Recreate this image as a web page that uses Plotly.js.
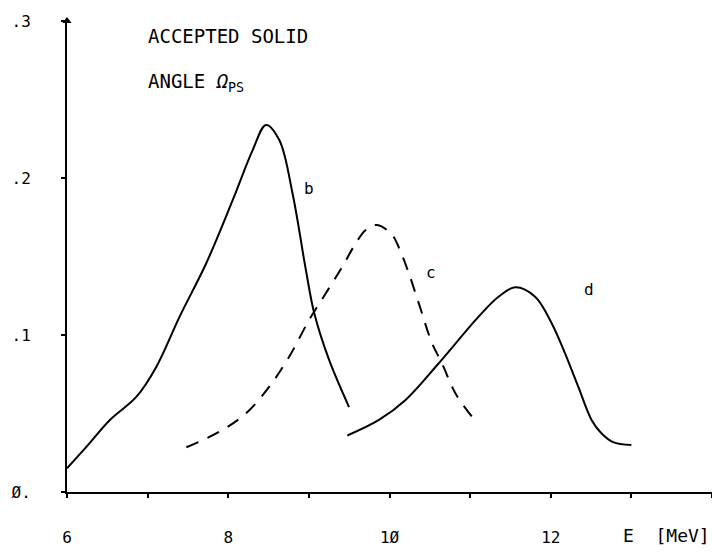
<!DOCTYPE html>
<html>
<head>
<meta charset="utf-8">
<script src="https://cdn.plot.ly/plotly-3.0.1.min.js"></script>
<style>html,body{margin:0;padding:0;background:#fff;}#chart{width:712px;height:560px;}</style>
</head>
<body>
<div id="chart"></div>
<script>
// Curve b (solid)
const bE = [6.0, 6.243, 6.532, 6.862, 7.109, 7.397, 7.727, 8.056, 8.303, 8.469, 8.633, 8.797, 8.963, 9.066, 9.251, 9.498];
const bY = [0.0151, 0.0289, 0.0459, 0.0607, 0.0798, 0.1117, 0.1457, 0.186, 0.2178, 0.2338, 0.2242, 0.1903, 0.1414, 0.114, 0.0841, 0.0541];
// Curve c (dashed)
const cE = [7.48, 7.891, 8.221, 8.509, 8.756, 9.004, 9.21, 9.415, 9.581, 9.705, 9.848, 10.033, 10.137, 10.24, 10.363, 10.528, 10.651, 10.817, 11.022];
const cY = [0.0285, 0.0384, 0.0501, 0.0671, 0.0862, 0.1096, 0.1266, 0.1435, 0.1584, 0.1669, 0.1701, 0.1637, 0.1531, 0.1393, 0.1202, 0.0947, 0.082, 0.0629, 0.048];
// Curve d (solid)
const dE = [9.477, 9.869, 10.199, 10.611, 11.105, 11.352, 11.559, 11.806, 12.011, 12.177, 12.341, 12.506, 12.625, 12.773, 13.0];
const dY = [0.036, 0.0459, 0.0586, 0.082, 0.1117, 0.1244, 0.1304, 0.1244, 0.1075, 0.0883, 0.0671, 0.0459, 0.0376, 0.0318, 0.0299];

const curveLabels = ["b", "c", "d"];
const labelE = [9.0, 10.51, 12.48];
const labelY = [0.1936, 0.140, 0.1287];

const xTickVals = [6, 8, 10, 12];
const xTickText = ["6", "8", "1Ø", "12"];
const xMinorVals = [7, 9, 11, 13, 14];
const yTickVals = [0, 0.1, 0.2, 0.3];
const yTickText = ["Ø.", ".1", ".2", ".3"];

const titleLine1 = "ACCEPTED SOLID";
const titleLine2 = "ANGLE <i>Ω</i><sub>PS</sub>";
const xUnit = "E  [MeV]";

const FONT = "DejaVu Sans Mono, Liberation Mono, monospace";

const traces = [
  {x: bE, y: bY, mode: "lines", line: {color: "#000", width: 2, shape: "spline", smoothing: 1}, hoverinfo: "skip"},
  {x: cE, y: cY, mode: "lines", line: {color: "#000", width: 2, shape: "spline", smoothing: 1, dash: "13px,10px"}, hoverinfo: "skip"},
  {x: dE, y: dY, mode: "lines", line: {color: "#000", width: 2, shape: "spline", smoothing: 1}, hoverinfo: "skip"},
  // arrow tip at the top of the y axis
  {x: [6], y: [0.3], mode: "markers", marker: {symbol: "triangle-up", size: 8, color: "#000"}, cliponaxis: false, hoverinfo: "skip"}
];

const plotW = 712 - 67, plotH = 560 - 21 - 68;
const px2paperX = p => (p - 67) / plotW;
const px2paperY = p => 1 - (p - 21) / plotH;

const annotations = curveLabels.map((t, i) => ({
  x: labelE[i], y: labelY[i], xref: "x", yref: "y", text: t, showarrow: false,
  font: {family: FONT, size: 16, color: "#000"}
}));
annotations.push(
  {x: px2paperX(146), y: px2paperY(36), xref: "paper", yref: "paper", xanchor: "left", yanchor: "middle",
   text: titleLine1, showarrow: false, font: {family: FONT, size: 19, color: "#000"}},
  {x: px2paperX(146), y: px2paperY(83), xref: "paper", yref: "paper", xanchor: "left", yanchor: "middle",
   text: titleLine2, showarrow: false, font: {family: FONT, size: 19, color: "#000"}},
  {x: 1, y: 0, xref: "paper", yref: "paper", xanchor: "right", yanchor: "middle",
   yshift: -43, text: xUnit, showarrow: false, font: {family: FONT, size: 18, color: "#000"}}
);

const layout = {
  width: 712, height: 560,
  margin: {l: 67, r: 0, t: 21, b: 68},
  paper_bgcolor: "#fff", plot_bgcolor: "#fff",
  showlegend: false,
  font: {family: FONT, size: 16, color: "#000"},
  xaxis: {
    range: [6, 14], showgrid: false, zeroline: false,
    showline: true, linecolor: "#000", linewidth: 2,
    tickmode: "array", tickvals: xTickVals, ticktext: xTickText,
    ticks: "outside", ticklen: 4, tickwidth: 2, tickcolor: "#000",
    minor: {tickmode: "array", tickvals: xMinorVals, ticks: "outside", ticklen: 4, tickwidth: 2, tickcolor: "#000", showgrid: false},
    ticklabelstandoff: 26,
    tickfont: {family: FONT, size: 16, color: "#000"}
  },
  yaxis: {
    range: [0, 0.3], showgrid: false, zeroline: false,
    showline: true, linecolor: "#000", linewidth: 2,
    tickmode: "array", tickvals: yTickVals, ticktext: yTickText,
    ticks: "outside", ticklen: 4, tickwidth: 2, tickcolor: "#000",
    ticklabelstandoff: 27,
    tickfont: {family: FONT, size: 16, color: "#000"}
  },
  annotations: annotations
};

Plotly.newPlot("chart", traces, layout, {staticPlot: true, displayModeBar: false});
</script>
</body>
</html>
